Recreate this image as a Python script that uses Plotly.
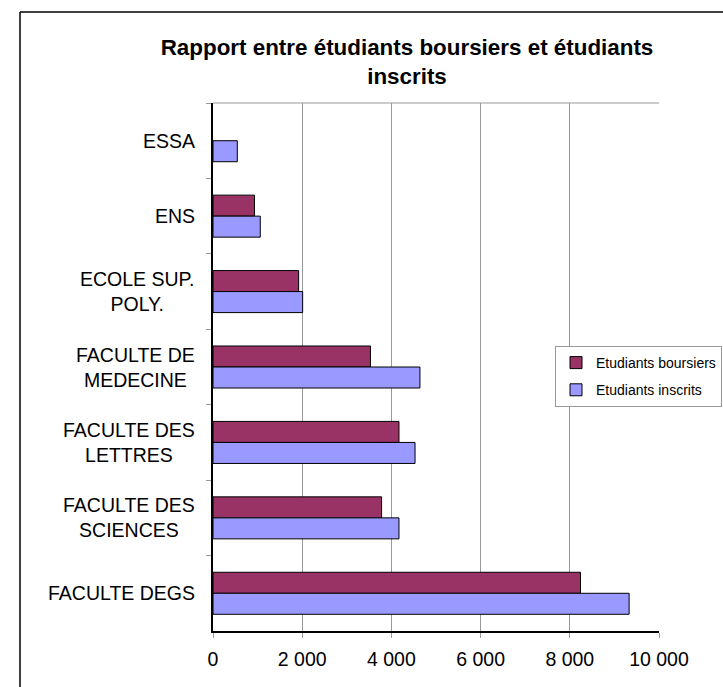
import plotly.graph_objects as go

categories = ["ESSA", "ENS", "ECOLE SUP.<br>POLY.", "FACULTE DE<br>MEDECINE",
              "FACULTE DES<br>LETTRES", "FACULTE DES<br>SCIENCES", "FACULTE DEGS"]
boursiers = [None, 930, 1920, 3530, 4170, 3780, 8240]
inscrits = [545, 1060, 2010, 4640, 4530, 4170, 9330]
x_tickvals = [0, 2000, 4000, 6000, 8000, 10000]
x_ticktext = ["0", "2 000", "4 000", "6 000", "8 000", "10 000"]
series_names = ["Etudiants boursiers", "Etudiants inscrits"]
title_text = "Rapport entre étudiants boursiers et étudiants<br>inscrits"

FONT = "Arial, Liberation Sans, sans-serif"
W, H = 723, 687
L, R, T, B = 213, 64, 103, 56
pw, ph = W - L - R, H - T - B

def px_x(px):
    return (px - L) / pw

def px_y(py):
    return (H - B - py) / ph

fig = go.Figure()
fig.add_trace(go.Bar(
    y=categories, x=boursiers, orientation="h", name=series_names[0],
    marker=dict(color="#993366", line=dict(color="black", width=1)),
    legendgroup="a",
))
fig.add_trace(go.Bar(
    y=categories, x=inscrits, orientation="h", name=series_names[1],
    marker=dict(color="#9999FF", line=dict(color="black", width=1)),
    legendgroup="b",
))

annotations = []
for c in categories:
    annotations.append(dict(
        x=px_x(197), xref="paper", y=c, yref="y", text=c, showarrow=False,
        xanchor="right", yanchor="middle", align="center",
        font=dict(family=FONT, size=19.5, color="black"),
    ))

shapes = [
    # outer chart border (cropped at right and bottom)
    dict(type="line", xref="paper", yref="paper", x0=px_x(20), x1=px_x(20),
         y0=px_y(12), y1=px_y(700), line=dict(color="black", width=1.5)),
    dict(type="line", xref="paper", yref="paper", x0=px_x(20), x1=px_x(740),
         y0=px_y(12), y1=px_y(12), line=dict(color="black", width=1.5)),
    # plot area top border
    dict(type="line", xref="paper", yref="paper", x0=0, x1=1, y0=1, y1=1,
         line=dict(color="#999999", width=1)),
]

fig.update_layout(
    width=W, height=H,
    margin=dict(l=L, r=R, t=T, b=B, autoexpand=False),
    paper_bgcolor="white", plot_bgcolor="white",
    barmode="group", bargap=0.443, bargroupgap=0,
    font=dict(family=FONT, color="black"),
    title=dict(text="<b>" + title_text + "</b>", x=407 / W, xanchor="center",
               y=1 - 55 / H, yanchor="middle", xref="container", yref="container",
               font=dict(family=FONT, size=22.4, color="black")),
    legend=dict(x=px_x(555), y=px_y(346), xanchor="left", yanchor="top",
                bordercolor="#999999", borderwidth=1, bgcolor="white",
                font=dict(family=FONT, size=14, color="black"),
                tracegroupgap=6, traceorder="grouped"),
    annotations=annotations,
    shapes=shapes,
    xaxis=dict(range=[0, 10000], tickvals=x_tickvals, ticktext=x_ticktext,
               showgrid=True, gridcolor="#999999", gridwidth=1,
               showline=True, linecolor="black", linewidth=1.5,
               ticks="outside", ticklen=5, tickcolor="#999999",
               ticklabelstandoff=5,
               tickfont=dict(family=FONT, size=19.5, color="black"),
               zeroline=False, fixedrange=True),
    yaxis=dict(autorange="reversed", type="category", showticklabels=False,
               showline=True, linecolor="black", linewidth=1.5,
               ticks="outside", ticklen=5, tickcolor="#999999",
               tickson="boundaries", showgrid=False, zeroline=False),
)

fig.write_html("out.html", config={"displayModeBar": False},
               post_script="document.body.style.margin='0px';")
